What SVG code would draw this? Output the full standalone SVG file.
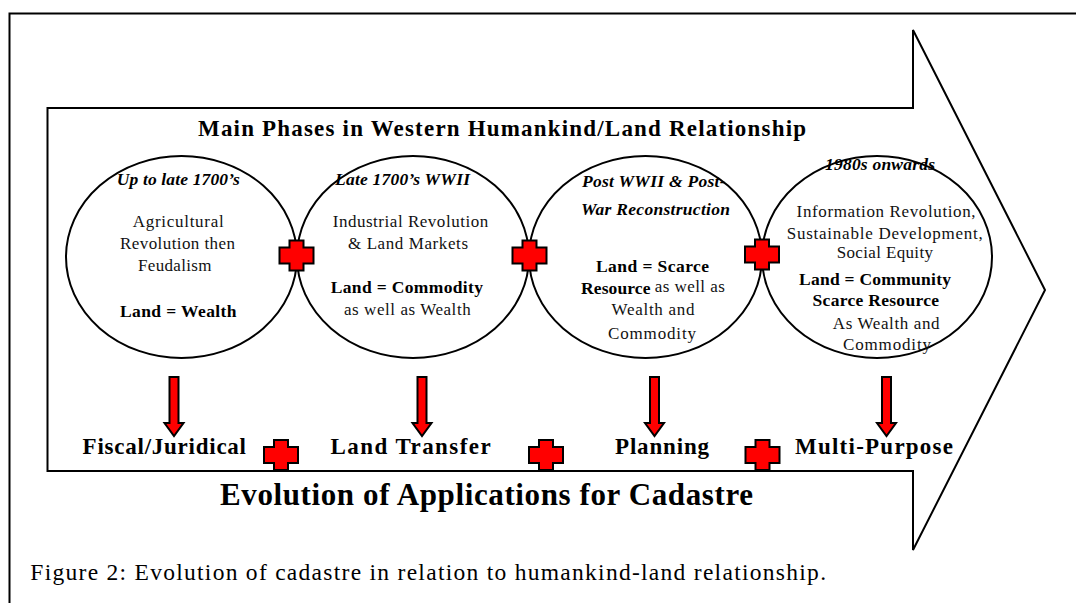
<svg xmlns="http://www.w3.org/2000/svg" width="1076" height="603" viewBox="0 0 1076 603">
<style>
  text { font-family: "Liberation Serif", "Times New Roman", serif; fill: #000; }
  .bi { font-weight: bold; font-style: italic; font-size: 17.5px; }
  .r { font-size: 17px; fill: #111; }
  .b { font-weight: bold; font-size: 17.5px; }
  .lbl { font-weight: bold; font-size: 23px; }
  .ttl { font-weight: bold; font-size: 23px; }
  .big { font-weight: bold; font-size: 31px; }
  .cap { font-size: 23.5px; }
  .phase { fill: #fff; stroke: #000; stroke-width: 2; }
  .line { fill: none; stroke: #000; stroke-width: 2; }
  .red { fill: #ff0000; stroke: #000; stroke-width: 2; stroke-linejoin: miter; }
</style>
<defs>
  <polygon id="cross" points="-7,-15 7,-15 7,-8 17,-8 17,8 7,8 7,15 -7,15 -7,8 -17,8 -17,-8 -7,-8"/>
  <path id="down" d="M-4.5,0 L4.5,0 L4.5,46 L9.5,46 L0,59 L-9.5,46 L-4.5,46 Z"/>
</defs>
<rect width="1076" height="603" fill="#fff"/>
<g id="frame">
  <path class="line" d="M9.5,603 L9.5,13.5 L1076,13.5"/>
</g>
<g id="big-arrow">
  <path class="phase" d="M47.5,108 L913,108 L913,30 L1045,290 L913,550 L913,471 L47.5,471 Z"/>
  <text class="ttl" x="198" y="136" textLength="608">Main Phases in Western Humankind/Land Relationship</text>
</g>
<g id="phase1">
  <ellipse class="phase" cx="181.5" cy="257" rx="115.5" ry="101"/>
  <text class="bi" x="116.7" y="185" textLength="123">Up to late 1700’s</text>
  <text class="r" x="132.7" y="226.7" textLength="91">Agricultural</text>
  <text class="r" x="120" y="249" textLength="115">Revolution then</text>
  <text class="r" x="138" y="270.7" textLength="73.5">Feudalism</text>
  <text class="b" x="120" y="316.7" textLength="116.5">Land = Wealth</text>
</g>
<g id="phase2">
  <ellipse class="phase" cx="413" cy="257" rx="116" ry="101"/>
  <text class="bi" x="335" y="185" textLength="135">Late 1700’s WWII</text>
  <text class="r" x="332.7" y="227" textLength="155.5">Industrial Revolution</text>
  <text class="r" x="348" y="249" textLength="120">&amp; Land Markets</text>
  <text class="b" x="330.7" y="293.3" textLength="152.3">Land = Commodity</text>
  <text class="r" x="344" y="315" textLength="126.7">as well as Wealth</text>
</g>
<g id="phase3">
  <ellipse class="phase" cx="645.5" cy="257" rx="116.5" ry="101"/>
  <text class="bi" x="582" y="187" textLength="143.5">Post WWII &amp; Post-</text>
  <text class="bi" x="581" y="214.5" textLength="149">War Reconstruction</text>
  <text class="b" x="596" y="272" textLength="113">Land = Scarce</text>
  <text class="b" x="581" y="293.6" textLength="69.5">Resource</text>
  <text class="r" x="654.8" y="292" textLength="70">as well as</text>
  <text class="r" x="611.5" y="315" textLength="83">Wealth and</text>
  <text class="r" x="608" y="338.7" textLength="88">Commodity</text>
</g>
<g id="phase4">
  <ellipse class="phase" cx="877" cy="257" rx="115" ry="101"/>
  <text class="bi" x="825" y="169.5" textLength="110">1980s onwards</text>
  <text class="r" x="796.6" y="217.4" textLength="179">Information Revolution,</text>
  <text class="r" x="786.7" y="238.7" textLength="196">Sustainable  Development,</text>
  <text class="r" x="836.7" y="258" textLength="96.3">Social Equity</text>
  <text class="b" x="799" y="284.8" textLength="152">Land = Community</text>
  <text class="b" x="812.6" y="306" textLength="126.4">Scarce Resource</text>
  <text class="r" x="832.8" y="329" textLength="106.7">As Wealth and</text>
  <text class="r" x="843" y="350" textLength="88">Commodity</text>
</g>
<g id="connectors">
  <use href="#cross" class="red" x="296.5" y="255.5"/>
  <use href="#cross" class="red" x="529.5" y="255.5"/>
  <use href="#cross" class="red" x="762" y="254.5"/>
  <use href="#down" class="red" x="174" y="377"/>
  <use href="#down" class="red" x="422" y="377"/>
  <use href="#down" class="red" x="654.5" y="377"/>
  <use href="#down" class="red" x="886.5" y="377"/>
  <use href="#cross" class="red" x="281" y="455"/>
  <use href="#cross" class="red" x="546" y="455"/>
  <use href="#cross" class="red" x="762.5" y="455"/>
</g>
<g id="applications">
  <text class="lbl" x="82.6" y="453.7" textLength="163.4">Fiscal/Juridical</text>
  <text class="lbl" x="330.6" y="453.7" textLength="160">Land Transfer</text>
  <text class="lbl" x="615" y="453.7" textLength="94">Planning</text>
  <text class="lbl" x="795" y="453.7" textLength="158">Multi-Purpose</text>
</g>
<g id="titles">
  <text class="big" x="220" y="504.6" textLength="533">Evolution of Applications for Cadastre</text>
  <text class="cap" x="30.3" y="580" textLength="795.7">Figure 2: Evolution of cadastre in relation to humankind-land relationship.</text>
</g>
</svg>
